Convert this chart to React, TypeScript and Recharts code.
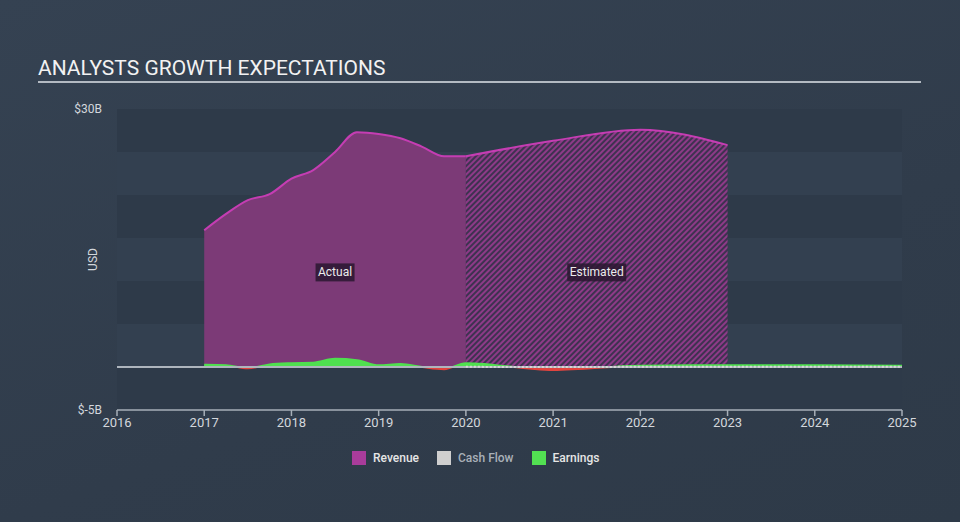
import React from 'react';
import { ComposedChart, Area, Line, XAxis, YAxis, ReferenceLine, ReferenceArea, ReferenceDot, Label } from 'recharts';

const actualYears = [2017, 2017.25, 2017.5, 2017.75, 2018, 2018.25, 2018.5, 2018.75, 2019, 2019.25, 2019.5, 2019.75, 2020];
const revenueActual = [15.9, 17.8, 19.4, 20.1, 21.9, 22.9, 25.0, 27.3, 27.1, 26.6, 25.6, 24.5, 24.5];
const earningsActual = [0.25, 0.2, -0.15, 0.3, 0.45, 0.5, 0.95, 0.8, 0.2, 0.35, 0.0, -0.25, 0.45];

const estimateYears = [2020, 2021, 2022, 2023, 2024, 2025];
const revenueEstimate = [24.5, 26.3, 27.6, 25.8, null, null];
const earningsEstimate = [0.45, -0.35, 0.15, 0.2, 0.2, 0.15];
const cashFlowEstimate = [0.02, 0.0, 0.02, 0.03, 0.03, 0.03];

const xTicks = [2016, 2017, 2018, 2019, 2020, 2021, 2022, 2023, 2024, 2025];
const yTicks = [-5, 30];
const bandEdges = [30, 25, 20, 15, 10, 5, 0, -5];

const legendItems = [
  { name: 'Revenue', color: '#a93c9b', text: '#e6e6e6' },
  { name: 'Cash Flow', color: '#cfcfcf', text: '#a9b0b8' },
  { name: 'Earnings', color: '#52e052', text: '#e6e6e6' },
];

type Row = { x: number; revA?: number | null; revE?: number | null; earn?: number | null; cash?: number | null };

const rowMap = new Map<number, Row>();
const getRow = (x: number) => {
  if (!rowMap.has(x)) rowMap.set(x, { x });
  return rowMap.get(x)!;
};
actualYears.forEach((x, i) => {
  const r = getRow(x);
  r.revA = revenueActual[i];
  r.earn = earningsActual[i];
});
estimateYears.forEach((x, i) => {
  const r = getRow(x);
  r.revE = revenueEstimate[i];
  r.earn = earningsEstimate[i];
  r.cash = cashFlowEstimate[i];
});
const data = Array.from(rowMap.values()).sort((a, b) => a.x - b.x);

const allEarnings = [...earningsActual, ...earningsEstimate];
const eMax = Math.max(...allEarnings);
const eMin = Math.min(...allEarnings);
const zeroOffset = eMax / (eMax - eMin);

const makeTag = (text: string, w: number) => (props: any) => {
  const { cx, cy } = props;
  return (
    <g>
      <rect x={cx - w / 2} y={cy - 9} width={w} height={18} fill="#2a1730" fillOpacity={0.85} />
      <text x={cx} y={cy + 4} textAnchor="middle" fill="#ececec" fontSize={12} fontFamily="Roboto, sans-serif">
        {text}
      </text>
    </g>
  );
};

export default function App() {
  return (
    <div
      style={{
        position: 'fixed',
        left: 0,
        top: 0,
        width: 960,
        height: 522,
        background: 'linear-gradient(160deg, #354252 0%, #303c4b 60%, #2e3a48 100%)',
        fontFamily: 'Roboto, sans-serif',
        overflow: 'hidden',
      }}
    >
      <div
        style={{
          position: 'absolute',
          left: 38,
          top: 56,
          fontSize: 21,
          color: '#f2f2f2',
          letterSpacing: 0,
          lineHeight: '24px',
        }}
      >
        ANALYSTS GROWTH EXPECTATIONS
      </div>
      <div style={{ position: 'absolute', left: 38, top: 81, width: 883, height: 2, background: '#b3bac2' }} />
      <div style={{ position: 'absolute', left: 0, top: 0 }}>
        <ComposedChart width={960} height={522} data={data} margin={{ top: 109, right: 58, bottom: 82, left: 57 }}>
          <defs>
            <pattern id="hatch" patternUnits="userSpaceOnUse" width={4} height={4} patternTransform="rotate(45)">
              <rect x={0} y={0} width={4} height={4} fill="#3e3250" />
              <rect x={0} y={0} width={2} height={4} fill="#8e3a88" />
            </pattern>
            <linearGradient id="earnFill" x1="0" y1="0" x2="0" y2="1">
              <stop offset={zeroOffset} stopColor="#4fe04f" stopOpacity={1} />
              <stop offset={zeroOffset} stopColor="#e0443f" stopOpacity={1} />
            </linearGradient>
          </defs>
          {bandEdges.slice(0, -1).map((top, i) => (
            <ReferenceArea
              key={top}
              x1={2016}
              x2={2025}
              y1={bandEdges[i + 1]}
              y2={top}
              fill={i % 2 === 0 ? '#2e3a49' : '#334050'}
              fillOpacity={1}
              stroke="none"
            />
          ))}
          <XAxis
            type="number"
            dataKey="x"
            domain={[2016, 2025]}
            ticks={xTicks}
            allowDataOverflow
            height={30}
            axisLine={{ stroke: '#a7afb8', strokeWidth: 1.5 }}
            tickLine={{ stroke: '#a7afb8', strokeWidth: 1.5 }}
            tickSize={6}
            tick={{ fill: '#d3d7dc', fontSize: 13, fontFamily: 'Roboto, sans-serif' }}
          />
          <YAxis
            type="number"
            domain={[-5, 30]}
            ticks={yTicks}
            allowDataOverflow
            axisLine={false}
            tickLine={false}
            width={60}
            tickSize={6}
            tickMargin={9}
            tickFormatter={(v: number) => `$${v}B`}
            tick={{ fill: '#d3d7dc', fontSize: 12, fontFamily: 'Roboto, sans-serif' }}
          >
            <Label
              value="USD"
              angle={-90}
              position="insideLeft"
              offset={36}
              style={{ fill: '#d3d7dc', fontSize: 12, fontFamily: 'Roboto, sans-serif', textAnchor: 'middle' }}
            />
          </YAxis>
          <ReferenceLine y={0} stroke="#aeb5bd" strokeWidth={2} />
          <Area
            type="monotone"
            dataKey="revA"
            stroke="#c53db3"
            strokeWidth={2}
            fill="#7c3a77"
            fillOpacity={1}
            isAnimationActive={false}
            connectNulls={false}
            dot={false}
            activeDot={false}
          />
          <Area
            type="monotone"
            dataKey="revE"
            stroke="#c53db3"
            strokeWidth={2}
            fill="url(#hatch)"
            fillOpacity={1}
            isAnimationActive={false}
            connectNulls={false}
            dot={false}
            activeDot={false}
          />
          <Line
            type="monotone"
            dataKey="cash"
            stroke="#d6d6d6"
            strokeWidth={2}
            strokeDasharray="2 2"
            dot={false}
            activeDot={false}
            isAnimationActive={false}
            connectNulls
          />
          <Area
            type="monotone"
            dataKey="earn"
            stroke="url(#earnFill)"
            strokeWidth={2}
            fill="url(#earnFill)"
            fillOpacity={1}
            isAnimationActive={false}
            connectNulls
            dot={false}
            activeDot={false}
          />
          <ReferenceDot x={2018.5} y={11} r={0} shape={makeTag('Actual', 39)} />
          <ReferenceDot x={2021.5} y={11} r={0} shape={makeTag('Estimated', 59)} />
        </ComposedChart>
      </div>
      <div
        style={{
          position: 'absolute',
          left: 352,
          top: 451,
          display: 'flex',
          alignItems: 'center',
          gap: 18,
          fontSize: 12,
          fontWeight: 500,
        }}
      >
        {legendItems.map((it) => (
          <div key={it.name} style={{ display: 'flex', alignItems: 'center', gap: 7 }}>
            <div style={{ width: 14, height: 14, background: it.color }} />
            <span style={{ color: it.text }}>{it.name}</span>
          </div>
        ))}
      </div>
    </div>
  );
}
